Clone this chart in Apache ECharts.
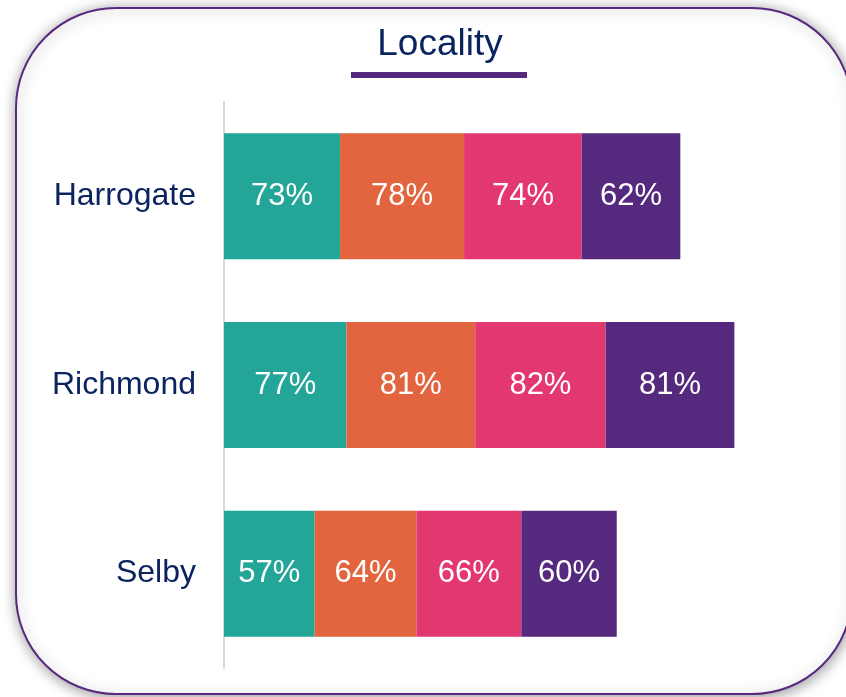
<!DOCTYPE html>
<html>
<head>
<meta charset="utf-8">
<script src="https://cdn.jsdelivr.net/npm/echarts@6/dist/echarts.min.js"></script>
<style>
  html, body { margin: 0; padding: 0; background: #ffffff; }
  #chart { width: 846px; height: 697px; }
</style>
</head>
<body>
<div id="chart"></div>
<script>
// localities, top to bottom
var localities = ['Harrogate', 'Richmond', 'Selby'];

// four stacked segments per locality (percent)
var seriesA = [73, 77, 57];
var seriesB = [78, 81, 64];
var seriesC = [74, 82, 66];
var seriesD = [62, 81, 60];

var colors = ['#23a698', '#e2653f', '#e2376f', '#55297d'];

var myChart = echarts.init(document.getElementById('chart'));

function seg(name, data, color) {
  return {
    name: name,
    type: 'bar',
    stack: 'total',
    barWidth: 126,
    data: data,
    itemStyle: { color: color },
    label: {
      show: true,
      position: 'inside',
      formatter: '{c}%',
      color: '#ffffff',
      fontSize: 31,
      padding: [4, 0, 0, 0],
      fontFamily: 'Liberation Sans, Arial, sans-serif'
    }
  };
}

var option = {
  backgroundColor: '#ffffff',
  animation: false,
  graphic: [
    {
      type: 'rect',
      z: -10,
      shape: { x: 16, y: 8, width: 836, height: 686, r: 100 },
      style: {
        fill: '#ffffff',
        stroke: '#58297f',
        lineWidth: 2,
        shadowBlur: 14,
        shadowColor: 'rgba(0,0,0,0.4)',
        shadowOffsetX: 1,
        shadowOffsetY: 2
      }
    },
    {
      type: 'text',
      x: 440,
      y: 45,
      style: {
        text: 'Locality',
        fill: '#0b2460',
        fontSize: 37,
        fontFamily: 'Liberation Sans, Arial, sans-serif',
        textAlign: 'center',
        textVerticalAlign: 'middle'
      }
    },
    {
      type: 'rect',
      shape: { x: 351, y: 72, width: 176, height: 6 },
      style: { fill: '#55297d' }
    }
  ],
  grid: {
    left: 224,
    top: 102,
    bottom: 29,
    width: 540.6
  },
  xAxis: {
    type: 'value',
    min: 0,
    max: 340,
    show: false
  },
  yAxis: {
    type: 'category',
    inverse: true,
    data: localities,
    axisLine: { show: true, lineStyle: { color: '#d9d9d9', width: 2 } },
    axisTick: { show: false },
    axisLabel: {
      color: '#0b2460',
      fontSize: 32,
      margin: 28,
      padding: [4, 0, 0, 0],
      fontFamily: 'Liberation Sans, Arial, sans-serif'
    }
  },
  series: [
    seg('A', seriesA, colors[0]),
    seg('B', seriesB, colors[1]),
    seg('C', seriesC, colors[2]),
    seg('D', seriesD, colors[3])
  ]
};
myChart.setOption(option);
</script>
</body>
</html>
